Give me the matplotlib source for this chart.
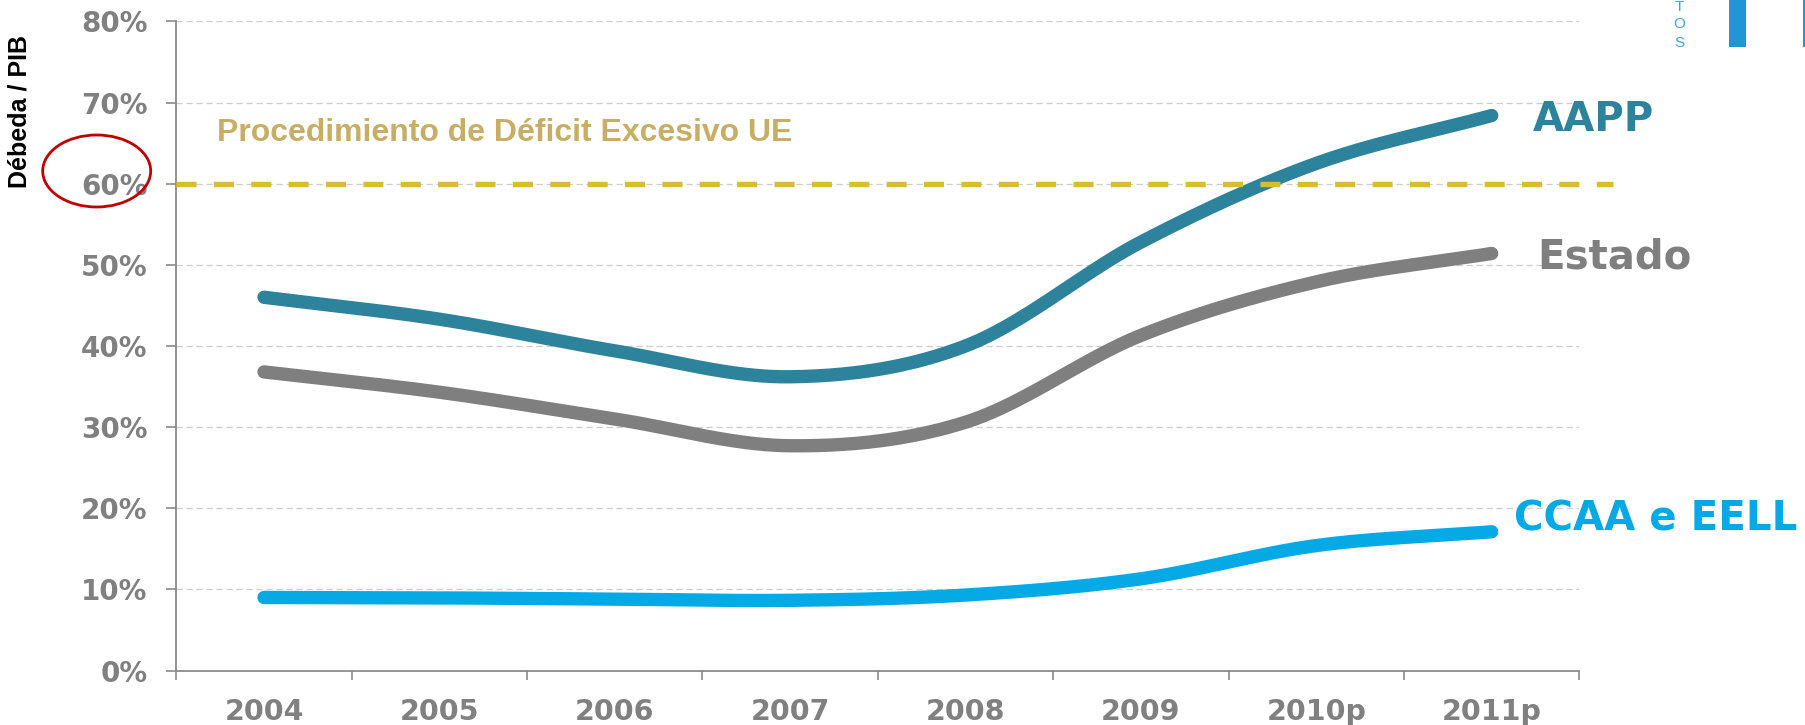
import numpy as np
import matplotlib
matplotlib.use("Agg")
import matplotlib.pyplot as plt
from matplotlib.patches import Ellipse, Rectangle

# ---------------- data ----------------
years = ["2004", "2005", "2006", "2007", "2008", "2009", "2010p", "2011p"]
aapp = [46.0, 43.3, 39.4, 36.2, 40.0, 52.8, 62.5, 68.4]
estado = [36.8, 34.3, 31.0, 27.7, 30.6, 41.3, 47.9, 51.4]
ccaa = [9.0, 8.95, 8.8, 8.65, 9.3, 11.3, 15.4, 17.1]
series_names = ["AAPP", "Estado", "CCAA e EELL"]
y_ticks = [0, 10, 20, 30, 40, 50, 60, 70, 80]
limit_value = 60
limit_label = "Procedimiento de Déficit Excesivo UE"
y_title = "Débeda / PIB"

# ---------------- style ----------------
C_AAPP = "#2C839B"
C_EST = "#7F7F7F"
C_CCAA = "#05A9E5"
C_GOLD = "#D9BD2B"
C_KHAKI = "#C8AE64"
C_TICK = "#808080"


def smooth(y, n=40):
    """Catmull-Rom curve through the data points (Excel-like smoothed line)."""
    y = np.asarray(y, float)
    x = np.arange(len(y), dtype=float)
    px = np.concatenate([[2 * x[0] - x[1]], x, [2 * x[-1] - x[-2]]])
    py = np.concatenate([[2 * y[0] - y[1]], y, [2 * y[-1] - y[-2]]])
    xs, ys = [], []
    for i in range(1, len(px) - 2):
        p0, p1, p2, p3 = (np.array([px[j], py[j]]) for j in (i - 1, i, i + 1, i + 2))
        c1 = p1 + (p2 - p0) / 6.0
        c2 = p2 - (p3 - p1) / 6.0
        t = np.linspace(0, 1, n, endpoint=(i == len(px) - 3))[:, None]
        pts = ((1 - t) ** 3) * p1 + 3 * ((1 - t) ** 2) * t * c1 + 3 * (1 - t) * t ** 2 * c2 + t ** 3 * p2
        xs.append(pts[:, 0]); ys.append(pts[:, 1])
    return np.concatenate(xs), np.concatenate(ys)


fig = plt.figure(figsize=(18.06, 7.25), dpi=100)
ax = fig.add_axes([176.3 / 1806, 54.5 / 725, (1579.4 - 176.3) / 1806, (670.5 - 21.4) / 725])
ax.set_xlim(-0.5, len(years) - 0.5)
ax.set_ylim(0, 80)

for s in ("top", "right"):
    ax.spines[s].set_visible(False)
for s in ("left", "bottom"):
    ax.spines[s].set_color("#8A8A8A")
    ax.spines[s].set_linewidth(1.3)

# grid
for v in y_ticks[1:]:
    ax.axhline(v, color="#CDCDCD", lw=0.9, ls=(0, (5, 3)), zorder=1)

# series
for vals, col in ((aapp, C_AAPP), (estado, C_EST), (ccaa, C_CCAA)):
    sx, sy = smooth(vals)
    ax.plot(sx, sy, color=col, lw=9.6, solid_capstyle="round", zorder=3)

# 60% limit line (extends past plot)
ax.plot([-0.5, 7.69], [limit_value, limit_value], color=C_GOLD, lw=3.9,
        dashes=(3.7, 3.2), clip_on=False, zorder=4, dash_capstyle="butt")

# ticks
ax.set_yticks(y_ticks)
ax.set_yticklabels([f"{v}%" for v in y_ticks])
ax.tick_params(axis="y", length=7.2, width=1.2, color="#8A8A8A", pad=13.5,
               labelsize=20, labelcolor=C_TICK, direction="out")
for lab in ax.get_yticklabels():
    lab.set_fontweight("bold")
    lab.set_family("DejaVu Sans")

ax.set_xticks(np.arange(-0.5, len(years), 1.0))
ax.set_xticklabels([""] * (len(years) + 1))
ax.tick_params(axis="x", which="major", length=6.5, width=1.2, color="#8A8A8A", direction="out")
ax.set_xticks(range(len(years)), minor=True)
ax.set_xticklabels(years, minor=True)
ax.tick_params(axis="x", which="minor", length=0, pad=20, labelsize=20.5, labelcolor=C_TICK)
for lab in ax.get_xticklabels(minor=True):
    lab.set_fontweight("bold")
    lab.set_family("DejaVu Sans")

# series labels
last = len(years) - 1
ax.annotate(series_names[0], (last, aapp[-1]), xytext=(29.5, 0), textcoords="offset points",
            ha="left", va="center_baseline", fontsize=29, fontweight="bold", color=C_AAPP,
            family="DejaVu Sans", annotation_clip=False)
ax.annotate(series_names[1], (last, estado[-1]), xytext=(33, 0), textcoords="offset points",
            ha="left", va="center_baseline", fontsize=29, fontweight="bold", color=C_EST,
            family="DejaVu Sans", annotation_clip=False)
ax.annotate(series_names[2], (last, ccaa[-1]), xytext=(16, 12), textcoords="offset points",
            ha="left", va="center_baseline", fontsize=29, fontweight="bold", color=C_CCAA,
            family="DejaVu Sans", annotation_clip=False)

# limit label
fig.text(217.3 / 1806, 1 - 141 / 725, limit_label, ha="left", va="baseline",
         fontsize=23, fontweight="bold", color=C_KHAKI, family="Liberation Sans")

# y title
fig.text(20 / 1806, 1 - 111 / 725, y_title, rotation=90, ha="center", va="center",
         fontsize=18, fontweight="bold", color="black", family="Liberation Sans")

# red ellipse around 60%
fig.patches.append(Ellipse((96.7 / 1806, 1 - 171 / 725), 108 / 1806, 72 / 725,
                           transform=fig.transFigure, fill=False, edgecolor="#C00000", lw=2))

# decorative top-right elements
for ch, yy in (("T", 6.7), ("O", 24.3), ("S", 42.7)):
    fig.text(1679.3 / 1806, 1 - yy / 725, ch, ha="center", va="center", fontsize=11,
             color="#3AA6DD", family="Liberation Sans")
fig.patches.append(Rectangle((1729.3 / 1806, 1 - 46.7 / 725), 16.7 / 1806, 46.7 / 725,
                             transform=fig.transFigure, color="#2196D3", lw=0))
fig.patches.append(Rectangle((1803.3 / 1806, 1 - 46.7 / 725), 3 / 1806, 46.7 / 725,
                             transform=fig.transFigure, color="#2196D3", lw=0))

fig.savefig("out.png", dpi=100, facecolor="white")
